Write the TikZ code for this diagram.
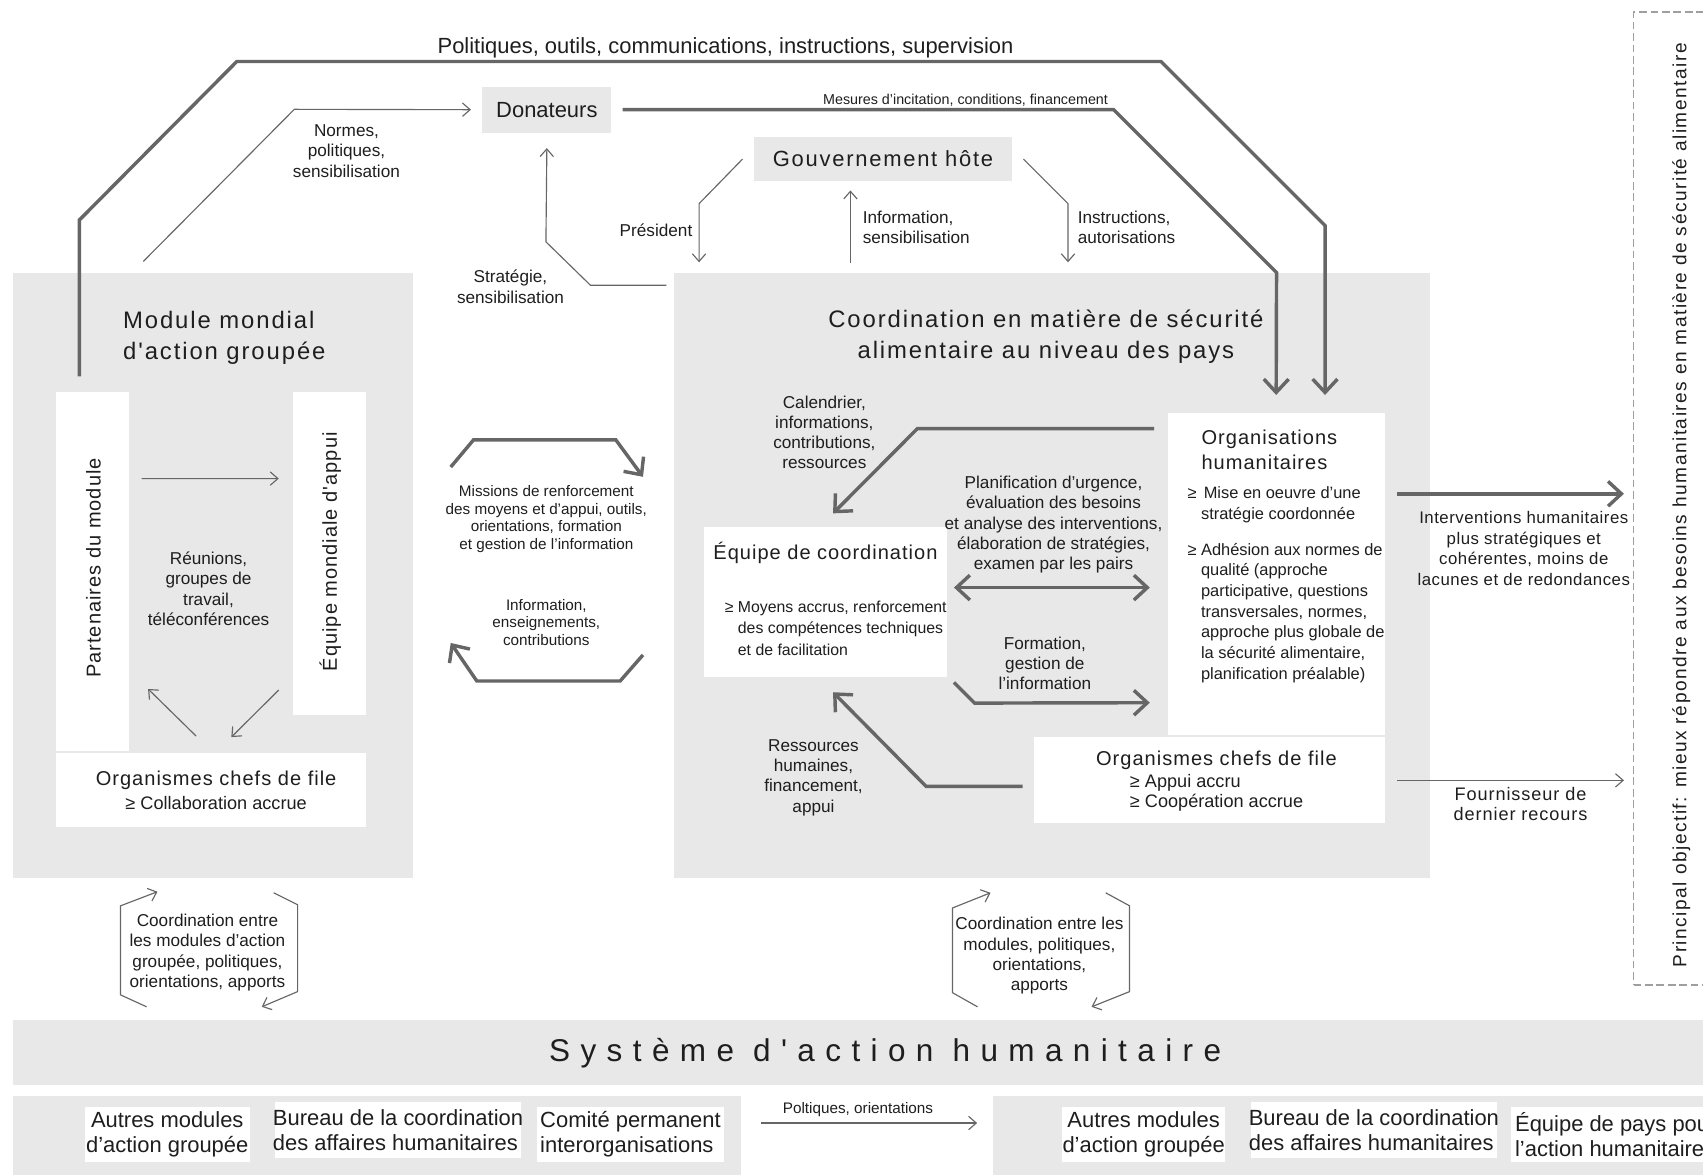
\documentclass[tikz,border=0pt]{standalone}
\usepackage{fontspec}
\setmainfont{Liberation Sans}
\newfontfamily\espace{Liberation Sans}[LetterSpace=5]
\newfontfamily\grandespace{Liberation Sans}[LetterSpace=8]
\newfontfamily\peuespace{Liberation Sans}[LetterSpace=3]
\newfontfamily\tresespace{Liberation Sans}[LetterSpace=33]
\usetikzlibrary{arrows.meta,positioning,fit,calc}
\definecolor{gristrait}{HTML}{666666}
\definecolor{grisfond}{HTML}{E8E8E8}
\definecolor{texte}{HTML}{1E1E1E}

\begin{document}
\begin{tikzpicture}[
  x=0.2mm, y=-0.2mm,
  every node/.style={text=texte},
  fond/.style={fill=grisfond, draw=none, inner sep=0pt},
  blanc/.style={fill=white, draw=none, inner sep=0pt},
  etiq/.style={align=center, inner sep=0pt, font=\fontsize{9}{10.6}\selectfont},
  petit/.style={align=center, inner sep=0pt, font=\fontsize{8}{9.3}\selectfont},
  titre/.style={inner sep=0pt, font=\fontsize{12.5}{16}\grandespace},
  titreb/.style={inner sep=0pt, font=\fontsize{10.5}{12.6}\espace},
  caseb/.style={inner sep=0pt, font=\fontsize{11.5}{13}\selectfont},
  gros/.style={draw=gristrait, line width=1.8pt, -{Straight Barb[length=7pt,width=13pt]}},
  fin/.style={draw=gristrait, line width=0.6pt, -{Straight Barb[length=4pt,width=7pt]}}
]
\useasboundingbox (0,0) rectangle (1568,1081);

% boites grises
\node[fond, fit={(12,251) (380,808)}] (module) {};
\node[fond, fit={(621,251) (1317,808)}] (pays) {};
\node[fond, fit={(444,80) (563,122)}] (donat) {};
\node[fond, fit={(694,126) (932,167)}] (gouv) {};
\node[fond, fit={(12,939) (1640,999)}] (systeme) {};
\node[fond, fit={(12,1009) (682,1100)}] (autresG) {};
\node[fond, fit={(914,1009) (1640,1100)}] (autresD) {};
\node[draw=gray!75, line width=0.9pt, dash pattern=on 4pt off 2pt, inner sep=0pt,
      fit={(1504,11) (1700,907)}] (objectif) {};

% boites blanches
\node[blanc, fit={(52,361) (119,691)}] (parten) {};
\node[blanc, fit={(270,361) (337,658)}] (equipeM) {};
\node[blanc, fit={(52,693) (337,761)}] (orgL) {};
\node[blanc, fit={(648,485) (872,623)}] (equipeC) {};
\node[blanc, fit={(1075,380) (1275,677)}] (orgH) {};
\node[blanc, fit={(952,679) (1275,758)}] (orgR) {};
\node[blanc, fit={(78,1019) (230,1070)}] (bA) {};
\node[blanc, fit={(253,1015) (480,1066)}] (bB) {};
\node[blanc, fit={(494,1019) (667,1070)}] (bC) {};
\node[blanc, fit={(978,1019) (1128,1070)}] (bD) {};
\node[blanc, fit={(1152,1015) (1378,1066)}] (bE) {};
\node[blanc, fit={(1391,1019) (1640,1070)}] (bF) {};

% textes
\node[inner sep=0pt, font=\fontsize{11.5}{13}\selectfont] (haut) at (668,44)
  {Politiques, outils, communications, instructions, supervision};
\node[inner sep=0pt, font=\fontsize{11.5}{13}\selectfont] (donatT) at (donat) {Donateurs};
\node[inner sep=0pt, font=\fontsize{11.5}{13}\grandespace] (gouvT) at (gouv) {Gouvernement hôte};
\node[inner sep=0pt, font=\fontsize{7.5}{9}\selectfont] (mesures) at (889,92)
  {Mesures d'incitation, conditions, financement};
\node[etiq] (normes) at (319,139) {Normes,\\politiques,\\sensibilisation};
\node[etiq] (strat) at (470,264) {Stratégie,\\sensibilisation};
\node[etiq] (pres) at (604,212) {Président};
\node[etiq, align=left, anchor=west] (info) at (794,209) {Information,\\sensibilisation};
\node[etiq, align=left, anchor=west] (instr) at (992,209) {Instructions,\\autorisations};

\node[titre, align=left, anchor=west] (modT) at (113,311) {Module mondial\\d'action groupée};
\node[titre, align=center] (paysT) at (963,310)
  {Coordination en matière de sécurité\\alimentaire au niveau des pays};
\node[titreb, rotate=90] (partenT) at (86,523) {Partenaires du module};
\node[titreb, rotate=90] (equipeMT) at (304,508) {Équipe mondiale d'appui};
\node[etiq] (reun) at (192,542) {Réunions,\\groupes de\\travail,\\téléconférences};
\node[titreb] (orgLT) at (199,718) {Organismes chefs de file};
\node[inner sep=0pt, font=\fontsize{9.5}{11}\selectfont] (orgLB) at (199,739) {≥ Collaboration accrue};

\node[petit] (missions) at (503,478)
  {Missions de renforcement\\des moyens et d'appui, outils,\\orientations, formation\\et gestion de l'information};
\node[petit] (infoEns) at (503,573) {Information,\\enseignements,\\contributions};

\node[etiq] (calend) at (759,398) {Calendrier,\\informations,\\contributions,\\ressources};
\node[titreb] (equipeCT) at (760,509) {Équipe de coordination};
\node[inner sep=0pt, align=left, anchor=north west, font=\fontsize{8.3}{11.2}\selectfont] (equipeCB) at (667,553)
  {≥ Moyens accrus, renforcement\\\phantom{≥ }des compétences techniques\\\phantom{≥ }et de facilitation};
\node[etiq] (planif) at (970,483)
  {Planification d'urgence,\\évaluation des besoins\\et analyse des interventions,\\élaboration de stratégies,\\examen par les pairs};
\node[etiq] (form) at (962,611) {Formation,\\gestion de\\l'information};
\node[etiq] (ressour) at (749,716) {Ressources\\humaines,\\financement,\\appui};

\node[titreb, align=left, anchor=west, font=\fontsize{10.5}{12.8}\espace] (orgHT) at (1106,414)
  {Organisations\\humanitaires};
\node[inner sep=0pt, align=left, anchor=north west, font=\fontsize{8.6}{10.8}\selectfont] (orgHB) at (1093,448)
  {≥ \,Mise en oeuvre d'une\\\phantom{≥ }stratégie coordonnée\\[8pt]
   ≥ Adhésion aux normes de\\\phantom{≥ }qualité (approche\\\phantom{≥ }participative, questions\\
   \phantom{≥ }transversales, normes,\\\phantom{≥ }approche plus globale de\\
   \phantom{≥ }la sécurité alimentaire,\\\phantom{≥ }planification préalable)};
\node[titreb] (orgRT) at (1120,700) {Organismes chefs de file};
\node[inner sep=0pt, align=left, anchor=west, font=\fontsize{9.5}{10.4}\selectfont] (orgRB) at (1040,730)
  {≥ Appui accru\\≥ Coopération accrue};

\node[etiq, font=\fontsize{8.8}{10.8}\peuespace] (interv) at (1403,505)
  {Interventions humanitaires\\plus stratégiques et\\cohérentes, moins de\\lacunes et de redondances};
\node[etiq, font=\fontsize{9.5}{10.4}\espace] (fourn) at (1400,740) {Fournisseur de\\dernier recours};
\node[inner sep=0pt, rotate=90, font=\fontsize{10}{12}\grandespace] (objT) at (1548,465)
  {Principal objectif: mieux répondre aux besoins humanitaires en matière de sécurité alimentaire};

\node[etiq] (coordL) at (191,877)
  {Coordination entre\\les modules d'action\\groupée, politiques,\\orientations, apports};
\node[etiq] (coordR) at (957,880)
  {Coordination entre les\\modules, politiques,\\orientations,\\apports};

\node[inner sep=0pt, font=\fontsize{16.5}{18}\tresespace] (systemeT) at (815,970) {Système d'action humanitaire};
\node[caseb, align=center] (bAT) at (bA) {Autres modules\\d'action groupée};
\node[caseb, align=left] (bBT) at (bB) {Bureau de la coordination\\des affaires humanitaires};
\node[caseb, align=left] (bCT) at (bC) {Comité permanent\\interorganisations};
\node[caseb, align=center] (bDT) at (bD) {Autres modules\\d'action groupée};
\node[caseb, align=left] (bET) at (bE) {Bureau de la coordination\\des affaires humanitaires};
\node[caseb, align=left, anchor=west] (bFT) at ($(bF.west)+(4,0)$) {Équipe de pays pour\\l'action humanitaire};
\node[petit] (polt) at (790,1022) {Poltiques, orientations};

% fleches epaisses
\draw[gros] ($(parten.north)+(-12.5,-14)$) -- ++(0,-144) -- ++(145,-146) -- ++(851,0)
  -- ++(151,151) -- ($(orgH.north)+(45,-16)$);
\draw[gros] ([xshift=2mm]donat.east) -- ++(452,0) -- ++(150,150) -- ($(orgH.north)+(0,-16)$);
\draw[gros] ($(orgH.north west)+(-12,15)$) -- ++(-218,0) -- ($(equipeC.north)+(7,-12)$);
\draw[gros, {Straight Barb[length=7pt,width=13pt]}-{Straight Barb[length=7pt,width=13pt]}]
  ($(equipeC.east)+(6,-13)$) -- ($(orgH.west)+(-16,12.5)$);
\draw[gros] ($(equipeC.south east)+(6,5)$) -- ++(19,19) -- ($(orgH.west)+(-16,118.5)$);
\draw[gros] ($(orgR.west)+(-10,5.5)$) -- ++(-89,0) -- ($(equipeC.south)+(7,14)$);
\draw[gros] ($(missions)+(-88,-48)$) -- ++(21,-25) -- ++(131,0) -- ++(25,34);
\draw[gros] ($(infoEns)+(89,30)$) -- ++(-21,24) -- ++(-132,0) -- ++(-24,-35);
\draw[gros] ($(orgH.north east)+(11,75)$) -- ($(orgH.north east -| objectif.west)+(-8,75)$);

% fleches fines
\draw[fin] ($(module.north)+(-64,-10)$) -- ++(139,-140) -- ([xshift=-2mm]donat.west);
\draw[fin] ($(pays.north west)+(-7,12)$) -- ++(-70,0) -- ++(-41,-40) -- ([yshift=-2.8mm]donat.south);
\draw[fin] ([xshift=-2mm]gouv.west) -- ++(-40,41) -- ++(0,54);
\draw[fin] ($(gouv.south)+(-30,75)$) -- ($(gouv.south)+(-30,8)$);
\draw[fin] ([xshift=2mm]gouv.east) -- ++(41,41) -- ++(0,54);
\draw[fin] ($(parten.north east)+(11,80)$) -- ($(equipeM.north west)+(-13,80)$);
\draw[fin] ($(orgL.north)+(-14,-15)$) -- ($(parten.south east)+(17,-57)$);
\draw[fin] ($(equipeM.south west)+(-13,-23)$) -- ($(orgL.north)+(18.5,-14)$);
\draw[fin] ($(orgR.east)+(11,0)$) -- ($(orgR.east -| objectif.west)+(-8,0)$);
\draw[fin] ($(autresG.east)+(18,-20.5)$) -- ($(autresD.west)+(-14,-20.5)$);
\draw[fin] ($(coordL)+(-56,50)$) -- ++(-24,-11) -- ++(0,-82) -- ++(34,-13);
\draw[fin] ($(coordL)+(61,-55)$) -- ++(22,11) -- ++(0,80) -- ++(-33,14);
\draw[fin] ($(coordR)+(-57,47)$) -- ++(-23,-13) -- ++(0,-78) -- ++(35,-14);
\draw[fin] ($(coordR)+(61,-58)$) -- ++(22,12) -- ++(0,79) -- ++(-35,14);
\end{tikzpicture}
\end{document}
